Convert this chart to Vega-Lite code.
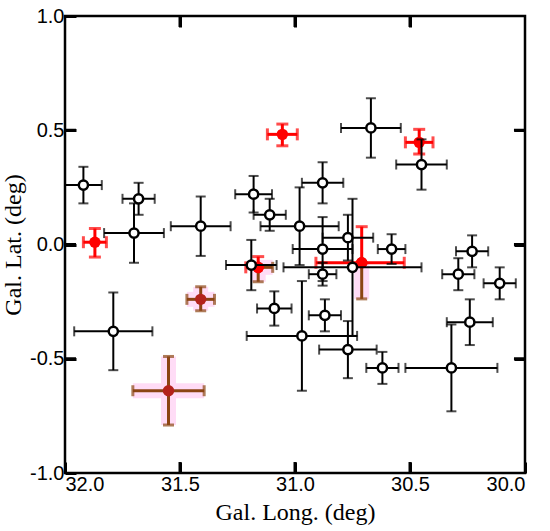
{
  "$schema": "https://vega.github.io/schema/vega-lite/v6.json",
  "width": 460,
  "height": 457,
  "autosize": "none",
  "padding": {"left": 65, "top": 16, "right": 25, "bottom": 58},
  "datasets": {
    "open": [
      {"x": 31.92, "y": 0.26, "xlo": 31.84, "xhi": 32.0, "ylo": 0.18, "yhi": 0.34},
      {"x": 31.68, "y": 0.2, "xlo": 31.61, "xhi": 31.75, "ylo": 0.13, "yhi": 0.27},
      {"x": 31.7, "y": 0.05, "xlo": 31.57, "xhi": 31.83, "ylo": -0.08, "yhi": 0.18},
      {"x": 31.41, "y": 0.08, "xlo": 31.28, "xhi": 31.54, "ylo": -0.05, "yhi": 0.21},
      {"x": 31.79, "y": -0.38, "xlo": 31.62, "xhi": 31.96, "ylo": -0.55, "yhi": -0.21},
      {"x": 31.18, "y": 0.22, "xlo": 31.1, "xhi": 31.26, "ylo": 0.14, "yhi": 0.3},
      {"x": 31.11, "y": 0.13, "xlo": 31.04, "xhi": 31.18, "ylo": 0.06, "yhi": 0.2},
      {"x": 30.98, "y": 0.08, "xlo": 30.81, "xhi": 31.15, "ylo": -0.09, "yhi": 0.25},
      {"x": 31.19, "y": -0.09, "xlo": 31.08, "xhi": 31.3, "ylo": -0.2, "yhi": 0.02},
      {"x": 31.09, "y": -0.28, "xlo": 31.015, "xhi": 31.165, "ylo": -0.355, "yhi": -0.205},
      {"x": 30.97, "y": -0.4, "xlo": 30.73, "xhi": 31.21, "ylo": -0.64, "yhi": -0.16},
      {"x": 30.67, "y": 0.51, "xlo": 30.54, "xhi": 30.8, "ylo": 0.38, "yhi": 0.64},
      {"x": 30.45, "y": 0.35, "xlo": 30.34, "xhi": 30.56, "ylo": 0.24, "yhi": 0.46},
      {"x": 30.88, "y": 0.27, "xlo": 30.79, "xhi": 30.97, "ylo": 0.18, "yhi": 0.36},
      {"x": 30.77, "y": 0.03, "xlo": 30.66, "xhi": 30.88, "ylo": -0.07, "yhi": 0.13},
      {"x": 30.75, "y": -0.1, "xlo": 30.45, "xhi": 31.05, "ylo": -0.4, "yhi": 0.2},
      {"x": 30.88, "y": -0.02, "xlo": 30.75, "xhi": 31.01, "ylo": -0.16, "yhi": 0.12},
      {"x": 30.88, "y": -0.13, "xlo": 30.82, "xhi": 30.94, "ylo": -0.18, "yhi": -0.08},
      {"x": 30.58, "y": -0.02, "xlo": 30.52, "xhi": 30.64, "ylo": -0.085, "yhi": 0.045},
      {"x": 30.23, "y": -0.03, "xlo": 30.16, "xhi": 30.3, "ylo": -0.1, "yhi": 0.04},
      {"x": 30.29, "y": -0.13, "xlo": 30.22, "xhi": 30.36, "ylo": -0.2, "yhi": -0.06},
      {"x": 30.11, "y": -0.17, "xlo": 30.04, "xhi": 30.18, "ylo": -0.24, "yhi": -0.1},
      {"x": 30.24, "y": -0.34, "xlo": 30.14, "xhi": 30.34, "ylo": -0.44, "yhi": -0.24},
      {"x": 30.87, "y": -0.31, "xlo": 30.8, "xhi": 30.94, "ylo": -0.38, "yhi": -0.24},
      {"x": 30.77, "y": -0.46, "xlo": 30.645, "xhi": 30.895, "ylo": -0.585, "yhi": -0.335},
      {"x": 30.62, "y": -0.54, "xlo": 30.55, "xhi": 30.69, "ylo": -0.61, "yhi": -0.47},
      {"x": 30.32, "y": -0.54, "xlo": 30.12, "xhi": 30.52, "ylo": -0.73, "yhi": -0.35}
    ],
    "red": [
      {"x": 31.87, "y": 0.01, "xlo": 31.82, "xhi": 31.92, "ylo": -0.055, "yhi": 0.07},
      {"x": 31.055, "y": 0.482, "xlo": 30.99, "xhi": 31.12, "ylo": 0.432, "yhi": 0.527},
      {"x": 30.46, "y": 0.447, "xlo": 30.4, "xhi": 30.52, "ylo": 0.396, "yhi": 0.504},
      {"x": 31.16, "y": -0.1, "xlo": 31.16, "xhi": 31.214, "ylo": -0.1, "yhi": -0.053},
      {"x": 30.71, "y": -0.08, "xlo": 30.525, "xhi": 30.909, "ylo": -0.08, "yhi": 0.078}
    ],
    "brown": [
      {"x": 31.41, "y": -0.24, "xlo": 31.35, "xhi": 31.47, "ylo": -0.29, "yhi": -0.185},
      {"x": 31.55, "y": -0.64, "xlo": 31.395, "xhi": 31.705, "ylo": -0.79, "yhi": -0.49},
      {"x": 31.16, "y": -0.1, "xlo": 31.097, "xhi": 31.16, "ylo": -0.163, "yhi": -0.1},
      {"x": 30.71, "y": -0.08, "ylo": -0.238, "yhi": -0.08}
    ],
    "xticks": [{"v": 30.5}, {"v": 31.0}, {"v": 31.5}],
    "yticks": [{"v": -0.5}, {"v": 0.0}, {"v": 0.5}]
  },
  "config": {
    "view": {"stroke": "black", "strokeWidth": 2.5},
    "axis": {
      "grid": false,
      "domain": false,
      "ticks": true,
      "tickColor": "black",
      "tickWidth": 3,
      "tickSize": -11,
      "labelPadding": 12,
      "labelFont": "Liberation Sans Narrow, Arial Narrow, Liberation Sans",
      "labelFontSize": 20,
      "labelColor": "black",
      "titleFont": "Liberation Serif",
      "titleFontSize": 24,
      "titleFontWeight": "normal",
      "titleColor": "black"
    }
  },
  "resolve": {"axis": {"x": "independent", "y": "independent"}},
  "layer": [
    {
      "data": {"name": "open"},
      "mark": {"type": "point", "opacity": 0},
      "encoding": {
        "x": {
          "field": "x", "type": "quantitative",
          "scale": {"domain": [30, 32], "reverse": true, "nice": false, "zero": false},
          "axis": {"orient": "top", "labels": false, "title": null, "values": [30.5, 31, 31.5]}
        },
        "y": {
          "field": "y", "type": "quantitative",
          "scale": {"domain": [-1, 1], "nice": false, "zero": false},
          "axis": {"orient": "right", "labels": false, "title": null, "values": [-0.5, 0, 0.5]}
        }
      }
    },
    {
      "layer": [
        {
          "data": {"name": "brown"},
          "transform": [{"filter": "isValid(datum.xlo)"}],
          "mark": {"type": "rule", "color": "#ffdcf6", "strokeWidth": 15},
          "encoding": {
            "x": {"field": "xlo", "type": "quantitative", "title": "Gal. Long. (deg)"},
            "x2": {"field": "xhi"},
            "y": {"field": "y", "type": "quantitative", "title": "Gal. Lat. (deg)"}
          }
        },
        {
          "data": {"name": "brown"},
          "mark": {"type": "rule", "color": "#ffdcf6", "strokeWidth": 15},
          "encoding": {
            "x": {"field": "x", "type": "quantitative", "title": "Gal. Long. (deg)"},
            "y": {"field": "ylo", "type": "quantitative", "title": "Gal. Lat. (deg)"},
            "y2": {"field": "yhi"}
          }
        },
        {
          "data": {"name": "brown"},
          "transform": [{"filter": "isValid(datum.xlo)"}],
          "mark": {"type": "errorbar", "ticks": true, "color": "#8b4513", "thickness": 3, "size": 11},
          "encoding": {
            "x": {"field": "xlo", "type": "quantitative", "title": "Gal. Long. (deg)"},
            "x2": {"field": "xhi"},
            "y": {"field": "y", "type": "quantitative", "title": "Gal. Lat. (deg)"}
          }
        },
        {
          "data": {"name": "brown"},
          "mark": {"type": "errorbar", "ticks": true, "color": "#8b4513", "thickness": 3, "size": 11},
          "encoding": {
            "x": {"field": "x", "type": "quantitative", "title": "Gal. Long. (deg)"},
            "y": {"field": "ylo", "type": "quantitative", "title": "Gal. Lat. (deg)"},
            "y2": {"field": "yhi"}
          }
        },
        {
          "data": {"name": "brown"},
          "mark": {"type": "circle", "color": "#b3231b", "size": 130, "opacity": 1},
          "encoding": {
            "x": {"field": "x", "type": "quantitative", "title": "Gal. Long. (deg)"},
            "y": {"field": "y", "type": "quantitative", "title": "Gal. Lat. (deg)"}
          }
        },
        {
          "data": {"name": "red"},
          "mark": {"type": "errorbar", "ticks": true, "color": "#ff0000", "thickness": 3, "size": 12},
          "encoding": {
            "x": {"field": "xlo", "type": "quantitative", "title": "Gal. Long. (deg)"},
            "x2": {"field": "xhi"},
            "y": {"field": "y", "type": "quantitative", "title": "Gal. Lat. (deg)"}
          }
        },
        {
          "data": {"name": "red"},
          "mark": {"type": "errorbar", "ticks": true, "color": "#ff0000", "thickness": 3, "size": 12},
          "encoding": {
            "x": {"field": "x", "type": "quantitative", "title": "Gal. Long. (deg)"},
            "y": {"field": "ylo", "type": "quantitative", "title": "Gal. Lat. (deg)"},
            "y2": {"field": "yhi"}
          }
        },
        {
          "data": {"name": "red"},
          "mark": {"type": "circle", "color": "#ff0000", "size": 130, "opacity": 1},
          "encoding": {
            "x": {"field": "x", "type": "quantitative", "title": "Gal. Long. (deg)"},
            "y": {"field": "y", "type": "quantitative", "title": "Gal. Lat. (deg)"}
          }
        },
        {
          "data": {"name": "open"},
          "mark": {"type": "errorbar", "ticks": true, "color": "black", "thickness": 2, "size": 10},
          "encoding": {
            "x": {
              "field": "xlo", "type": "quantitative", "title": "Gal. Long. (deg)",
              "axis": {"values": [30, 30.5, 31, 31.5, 32], "format": ".1f", "titlePadding": 6}
            },
            "x2": {"field": "xhi"},
            "y": {
              "field": "y", "type": "quantitative", "title": "Gal. Lat. (deg)",
              "axis": {"values": [-1, -0.5, 0, 0.5, 1], "labelExpr": "replace(format(datum.value, '.1f'), '\u2212', '-')", "titlePadding": 4}
            }
          }
        },
        {
          "data": {"name": "open"},
          "mark": {"type": "errorbar", "ticks": true, "color": "black", "thickness": 2, "size": 10},
          "encoding": {
            "x": {"field": "x", "type": "quantitative", "title": "Gal. Long. (deg)"},
            "y": {"field": "ylo", "type": "quantitative", "title": "Gal. Lat. (deg)"},
            "y2": {"field": "yhi"}
          }
        },
        {
          "data": {"name": "open"},
          "mark": {"type": "point", "shape": "circle", "filled": true, "fill": "white", "stroke": "black", "strokeWidth": 2.5, "size": 85, "opacity": 1},
          "encoding": {
            "x": {"field": "x", "type": "quantitative", "title": "Gal. Long. (deg)"},
            "y": {"field": "y", "type": "quantitative", "title": "Gal. Lat. (deg)"}
          }
        },
        {
          "data": {"name": "xticks"},
          "mark": {"type": "rule", "color": "black", "strokeWidth": 3},
          "encoding": {
            "x": {"field": "v", "type": "quantitative", "title": "Gal. Long. (deg)"},
            "y": {"datum": -1, "type": "quantitative", "title": "Gal. Lat. (deg)"},
            "y2": {"datum": -0.952}
          }
        },
        {
          "data": {"name": "xticks"},
          "mark": {"type": "rule", "color": "black", "strokeWidth": 3},
          "encoding": {
            "x": {"field": "v", "type": "quantitative", "title": "Gal. Long. (deg)"},
            "y": {"datum": 1, "type": "quantitative", "title": "Gal. Lat. (deg)"},
            "y2": {"datum": 0.952}
          }
        },
        {
          "data": {"name": "yticks"},
          "mark": {"type": "rule", "color": "black", "strokeWidth": 3},
          "encoding": {
            "y": {"field": "v", "type": "quantitative", "title": "Gal. Lat. (deg)"},
            "x": {"datum": 32, "type": "quantitative", "title": "Gal. Long. (deg)"},
            "x2": {"datum": 31.952}
          }
        },
        {
          "data": {"name": "yticks"},
          "mark": {"type": "rule", "color": "black", "strokeWidth": 3},
          "encoding": {
            "y": {"field": "v", "type": "quantitative", "title": "Gal. Lat. (deg)"},
            "x": {"datum": 30, "type": "quantitative", "title": "Gal. Long. (deg)"},
            "x2": {"datum": 30.048}
          }
        }
      ]
    }
  ]
}
